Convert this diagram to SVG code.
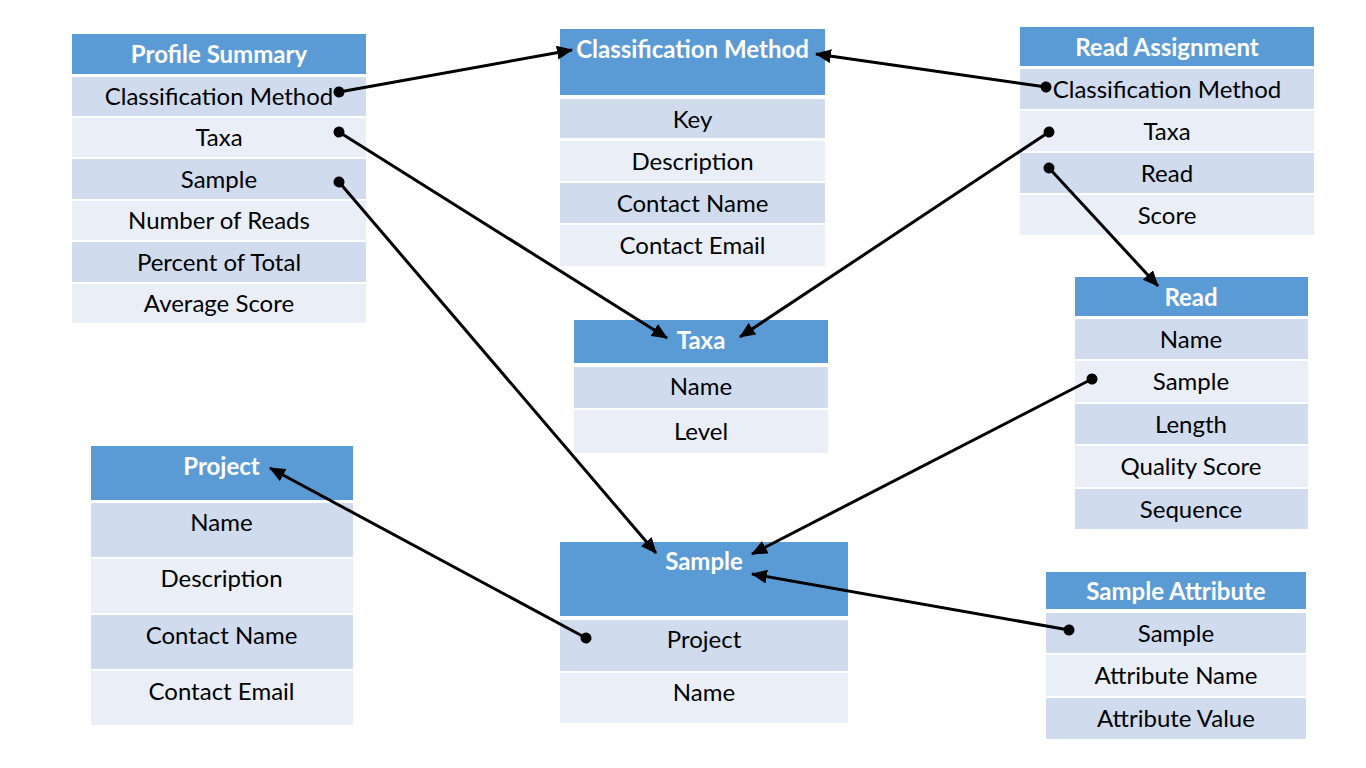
<svg xmlns="http://www.w3.org/2000/svg" width="1366" height="768" viewBox="0 0 1366 768">
<style>
.h{fill:#5B9BD5}
.d{fill:#D0DBEE}
.l{fill:#E9EEF7}
.ht{font-family:Lato,"Liberation Sans",sans-serif;font-weight:bold;font-size:24px;fill:#fff;text-anchor:middle}
.t{font-family:Lato,"Liberation Sans",sans-serif;font-size:24px;fill:#000;text-anchor:middle}
.c{stroke:#000;stroke-width:3;fill:none;marker-start:url(#dot);marker-end:url(#arr)}
</style>
<defs>
<marker id="arr" markerUnits="userSpaceOnUse" markerWidth="16" markerHeight="14" refX="15" refY="7" orient="auto">
<path d="M0,0 L16,7 L0,14 Z" fill="#000"/>
</marker>
<marker id="dot" markerUnits="userSpaceOnUse" markerWidth="12" markerHeight="12" refX="6" refY="6" orient="auto">
<circle cx="6" cy="6" r="5.5" fill="#000"/>
</marker>
</defs>
<rect width="1366" height="768" fill="#fff"/>

<g id="profile-summary">
<rect class="h" x="72" y="34" width="294" height="40"/>
<text class="ht" x="219" y="63">Profile Summary</text>
<rect class="d" x="72" y="77" width="294" height="39"/>
<text class="t" x="219" y="105">Classification Method</text>
<rect class="l" x="72" y="118" width="294" height="39"/>
<text class="t" x="219" y="146">Taxa</text>
<rect class="d" x="72" y="159" width="294" height="40"/>
<text class="t" x="219" y="188">Sample</text>
<rect class="l" x="72" y="201" width="294" height="39"/>
<text class="t" x="219" y="229">Number of Reads</text>
<rect class="d" x="72" y="242" width="294" height="40"/>
<text class="t" x="219" y="271">Percent of Total</text>
<rect class="l" x="72" y="284" width="294" height="39"/>
<text class="t" x="219" y="312">Average Score</text>
</g>

<g id="classification-method">
<rect class="h" x="560" y="29" width="265" height="66"/>
<text class="ht" x="692.5" y="58">Classification Method</text>
<rect class="d" x="560" y="99" width="265" height="39"/>
<text class="t" x="692.5" y="128">Key</text>
<rect class="l" x="560" y="141" width="265" height="40"/>
<text class="t" x="692.5" y="170">Description</text>
<rect class="d" x="560" y="183" width="265" height="40"/>
<text class="t" x="692.5" y="212">Contact Name</text>
<rect class="l" x="560" y="225" width="265" height="41"/>
<text class="t" x="692.5" y="254">Contact Email</text>
</g>

<g id="read-assignment">
<rect class="h" x="1020" y="27" width="294" height="39"/>
<text class="ht" x="1167" y="56">Read Assignment</text>
<rect class="d" x="1020" y="69" width="294" height="40"/>
<text class="t" x="1167" y="98">Classification Method</text>
<rect class="l" x="1020" y="111" width="294" height="40"/>
<text class="t" x="1167" y="140">Taxa</text>
<rect class="d" x="1020" y="153" width="294" height="40"/>
<text class="t" x="1167" y="182">Read</text>
<rect class="l" x="1020" y="195" width="294" height="40"/>
<text class="t" x="1167" y="224">Score</text>
</g>

<g id="read">
<rect class="h" x="1075" y="277" width="233" height="39"/>
<text class="ht" x="1191" y="306">Read</text>
<rect class="d" x="1075" y="319" width="233" height="40"/>
<text class="t" x="1191" y="348">Name</text>
<rect class="l" x="1075" y="361" width="233" height="41"/>
<text class="t" x="1191" y="390">Sample</text>
<rect class="d" x="1075" y="404" width="233" height="40"/>
<text class="t" x="1191" y="433">Length</text>
<rect class="l" x="1075" y="446" width="233" height="41"/>
<text class="t" x="1191" y="475">Quality Score</text>
<rect class="d" x="1075" y="489" width="233" height="40"/>
<text class="t" x="1191" y="518">Sequence</text>
</g>

<g id="taxa">
<rect class="h" x="574" y="320" width="254" height="43"/>
<text class="ht" x="701" y="349">Taxa</text>
<rect class="d" x="574" y="367" width="254" height="41"/>
<text class="t" x="701" y="395">Name</text>
<rect class="l" x="574" y="410" width="254" height="43"/>
<text class="t" x="701" y="440">Level</text>
</g>

<g id="project">
<rect class="h" x="91" y="446" width="262" height="54"/>
<text class="ht" x="221.5" y="475">Project</text>
<rect class="d" x="91" y="503" width="262" height="54"/>
<text class="t" x="221.5" y="531">Name</text>
<rect class="l" x="91" y="559" width="262" height="54"/>
<text class="t" x="221.5" y="587">Description</text>
<rect class="d" x="91" y="615" width="262" height="54"/>
<text class="t" x="221.5" y="644">Contact Name</text>
<rect class="l" x="91" y="671" width="262" height="54"/>
<text class="t" x="221.5" y="700">Contact Email</text>
</g>

<g id="sample">
<rect class="h" x="560" y="542" width="288" height="74"/>
<text class="ht" x="704" y="570">Sample</text>
<rect class="d" x="560" y="620" width="288" height="51"/>
<text class="t" x="704" y="648">Project</text>
<rect class="l" x="560" y="673" width="288" height="50"/>
<text class="t" x="704" y="701">Name</text>
</g>

<g id="sample-attribute">
<rect class="h" x="1046" y="572" width="260" height="37"/>
<text class="ht" x="1176" y="600">Sample Attribute</text>
<rect class="d" x="1046" y="613" width="260" height="40"/>
<text class="t" x="1176" y="642">Sample</text>
<rect class="l" x="1046" y="655" width="260" height="41"/>
<text class="t" x="1176" y="684">Attribute Name</text>
<rect class="d" x="1046" y="698" width="260" height="41"/>
<text class="t" x="1176" y="727">Attribute Value</text>
</g>

<g id="connectors">
<line class="c" x1="339" y1="92" x2="572" y2="50"/>
<line class="c" x1="1046" y1="87" x2="816" y2="54"/>
<line class="c" x1="339" y1="132" x2="667" y2="338"/>
<line class="c" x1="1049" y1="132" x2="740" y2="337"/>
<line class="c" x1="1049" y1="168" x2="1158" y2="286"/>
<line class="c" x1="339" y1="182" x2="656" y2="553"/>
<line class="c" x1="1092" y1="379" x2="752" y2="554"/>
<line class="c" x1="1069" y1="630" x2="752" y2="574"/>
<line class="c" x1="586" y1="638" x2="270" y2="468"/>
</g>
</svg>
